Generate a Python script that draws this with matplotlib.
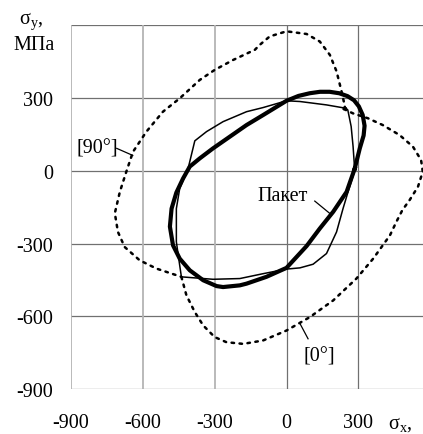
import matplotlib
matplotlib.use("Agg")
import matplotlib.pyplot as plt

plt.rcParams['font.family'] = ['Liberation Serif', 'DejaVu Serif']
plt.rcParams['mathtext.fontset'] = 'custom'
plt.rcParams['mathtext.rm'] = 'Liberation Serif'
plt.rcParams['mathtext.it'] = 'Liberation Serif'

# --- data (MPa) ---
# laminate envelope, thick line ("Пакет")
paket_x = [285, 306, 322, 326, 318, 302, 282, 255, 220, 180, 140, 97, 50,
           0, -98, -167, -237, -307, -362, -404, -432, -460, -480, -487, -474,
           -446, -404, -348, -292, -265, -195, -167, -84, 0, 84, 139, 195, 251,
           285]
paket_y = [9, 92, 145, 185, 230, 265, 290, 307, 319, 325, 325, 319, 308,
           288, 229, 188, 140, 92, 51, 17, -32, -90, -156, -230, -307,
           -362, -410, -451, -475, -479, -472, -465, -437, -400, -310, -238, -169,
           -87, 9]

# thin line
thin_x = [249, 167, 56, 0, -98, -167, -265, -334, -383, -411, -446, -460, -460,
          -446, -439, -307, -195, -98, 0, 56, 111, 167, 209, 236, 257, 285, 278,
          270, 256, 249]
thin_y = [257, 271, 285, 288, 260, 243, 202, 161, 123, 9, -73, -156, -293,
          -390, -437, -447, -444, -424, -405, -400, -385, -341, -252, -156, -87, 0,
          100, 182, 250, 257]

# [90°] dotted arc
ply90_x = [239, 244, 230, 209, 181, 139, 84, 0, -70, -112, -132, -223, -300,
           -362, -446, -516, -585, -641, -669, -696, -717, -704, -676, -613,
           -543, -439]
ply90_y = [254, 264, 326, 409, 477, 532, 563, 574, 553, 518, 498, 456, 415,
           374, 298, 243, 161, 78, -4, -87, -175, -252, -314, -369,
           -403, -437]

# [0°] dotted arc
ply0_x = [-439, -418, -383, -348, -300, -251, -181, -98, 0, 97, 195, 292, 362,
          432, 458, 484, 514, 549, 569, 562, 528, 472, 402, 340, 278, 239]
ply0_y = [-437, -513, -582, -637, -685, -706, -713, -699, -658, -603, -534,
          -444, -362, -266, -212, -162, -121, -66, -4, 44, 99, 147, 188, 216,
          236, 254]

x_ticks = [-900, -600, -300, 0, 300]
y_ticks = [-900, -600, -300, 0, 300]
y_grid = [-900, -600, -300, 0, 300, 600]

FS = 14.5
W, H = 423, 435
fig = plt.figure(figsize=(W / 100, H / 100), dpi=100)
ax = fig.add_axes([71 / W, 44.7 / H, (W - 71) / W, 364.3 / H])
ax.set_xlim(-900, 570)
ax.set_ylim(-900, 600)
for s in ax.spines.values():
    s.set_visible(False)

# grid
for y in y_grid:
    ax.axhline(y, color='#707070', lw=0.9, zorder=0)
for x in x_ticks:
    light = x < 0
    ax.axvline(x, color='#b4b4b4' if light else '#707070',
               lw=1.3 if light else 0.9, zorder=0)

ax.plot(ply90_x, ply90_y, color='black', lw=1.8, ls=(0, (1, 2.2)),
        dash_capstyle='round')
ax.plot(ply0_x, ply0_y, color='black', lw=1.8, ls=(0, (1, 2.2)),
        dash_capstyle='round')
ax.plot(thin_x, thin_y, color='black', lw=1.1)
ax.plot(paket_x, paket_y, color='black', lw=3.0, solid_joinstyle='round')

# labels with leader lines
ax.text(-790, 92, '[90°]', fontsize=FS, ha='center', va='center')
ax.plot([-709, -642], [92, 63], color='black', lw=0.9)
ax.text(-15, -103, 'Пакет', fontsize=FS, ha='center', va='center')
ax.plot([118, 181], [-125, -176], color='black', lw=0.9)
ax.text(135, -763, '[0°]', fontsize=FS, ha='center', va='center')
ax.plot([56, 90], [-629, -692], color='black', lw=0.9)

ax.set_xticks(x_ticks)
ax.set_xticklabels([str(v) for v in x_ticks])
ax.set_yticks(y_ticks)
ax.set_yticklabels([str(v) for v in y_ticks])
ax.tick_params(length=0, labelsize=FS)
ax.tick_params(axis='x', pad=17)
ax.tick_params(axis='y', pad=13)

ax.text(425, -1040, 'σ$_{\\mathrm{x}}$,', fontsize=FS, ha='left', va='center',
        clip_on=False)
fig.text(31 / W, 1 - 21 / H, 'σ$_{\\mathrm{y}}$,', fontsize=FS,
         ha='center', va='center')
fig.text(34 / W, 1 - 45 / H, 'МПа', fontsize=FS, ha='center', va='center')

fig.savefig('out.png', dpi=100)
